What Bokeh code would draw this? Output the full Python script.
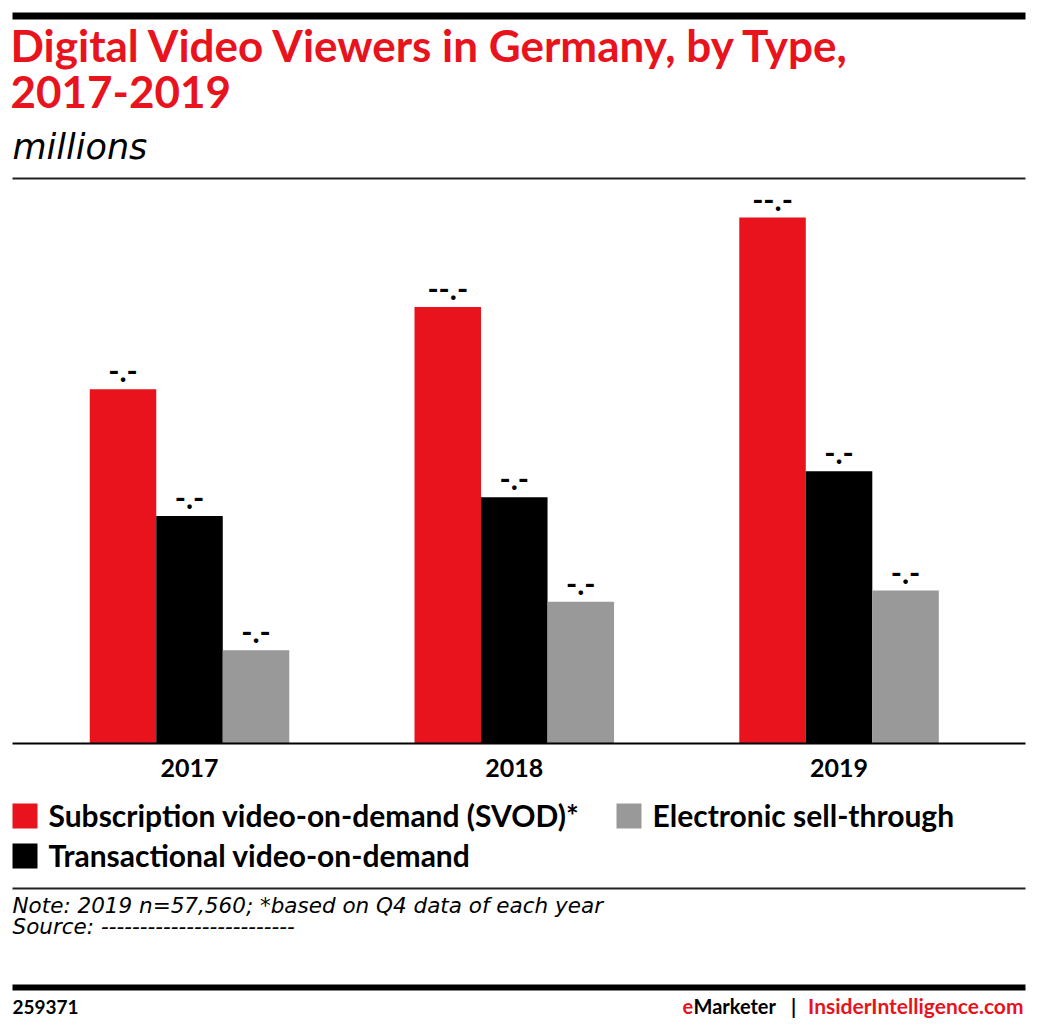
from bokeh.plotting import figure
from bokeh.models import ColumnDataSource, Range1d, Label, BoxAnnotation
from bokeh.transform import dodge
from bokeh.core.properties import value
from bokeh.embed import file_html
from bokeh.resources import INLINE

# ---- data (millions; values masked in the source) ----
years = ["2017", "2018", "2019"]
svod = [9.5, 11.7, 14.1]
tvod = [6.1, 6.6, 7.3]
est = [2.5, 3.8, 4.1]
svod_labels = ["-.-", "--.-", "--.-"]
tvod_labels = ["-.-", "-.-", "-.-"]
est_labels = ["-.-", "-.-", "-.-"]
series_names = ["Subscription video-on-demand (SVOD)*",
                "Transactional video-on-demand",
                "Electronic sell-through"]

title_lines = ["Digital Video Viewers in Germany, by Type,", "2017-2019"]
subtitle = "millions"
note_lines = ["Note: 2019 n=57,560; *based on Q4 data of each year",
              "Source: -------------------------"]
chart_id = "259371"

RED = "#E8131D"
BLACK = "#000000"
GRAY = "#999999"
colors = [RED, BLACK, GRAY]
BOLD_FONT = "Lato"
ITALIC_FONT = "DejaVu Sans"

W, H = 1036, 1030
p = figure(width=W, height=H, output_backend="svg", toolbar_location=None,
           x_range=Range1d(-0.582, 2.608), y_range=Range1d(-7.694, 19.92),
           x_axis_location=None, y_axis_location=None, min_border=0)
p.min_border_left = 0
p.min_border_right = 0
p.min_border_top = 0
p.min_border_bottom = 0
p.outline_line_color = None
p.xgrid.grid_line_color = None
p.ygrid.grid_line_color = None
p.background_fill_color = "white"
p.border_fill_color = "white"

src = ColumnDataSource(dict(x=list(range(len(years))), year=years, zero=[0] * len(years),
                            svod=svod, tvod=tvod, est=est,
                            svod_lab=svod_labels, tvod_lab=tvod_labels, est_lab=est_labels))
BW = 0.2048
specs = [("svod", -BW, colors[0], "svod_lab"),
         ("tvod", 0.0, colors[1], "tvod_lab"),
         ("est", BW, colors[2], "est_lab")]
for col, off, color, lab in specs:
    p.vbar(x=dodge("x", off, range=p.x_range), top=col, bottom=0, width=BW,
           source=src, fill_color=color, line_color=None)
    p.text(x=dodge("x", off, range=p.x_range), y=col, text=lab, source=src,
           text_align="center", text_baseline="alphabetic", y_offset=-18,
           text_font=value(BOLD_FONT), text_font_style="bold",
           text_font_size="30px", text_color=BLACK)

# category (x axis) labels
p.text(x="x", y="zero", text="year", source=src, text_align="center",
       text_baseline="alphabetic", y_offset=24, text_font=value(BOLD_FONT),
       text_font_style="bold", text_font_size="25px", text_color=BLACK)


def box(left, right, top, bottom, color):
    # page pixel coordinates -> frame screen coords (frame == canvas, y from bottom)
    p.add_layout(BoxAnnotation(left=left, right=right, top=H - top, bottom=H - bottom,
                               left_units="screen", right_units="screen",
                               top_units="screen", bottom_units="screen",
                               fill_color=color, fill_alpha=1.0, line_alpha=0,
                               level="overlay"))


def label(text, x, baseline, size, style="normal", color=BLACK, font=BOLD_FONT,
          align="left", shift=0.42):
    y = H - (baseline - shift * size)
    p.add_layout(Label(x=x, y=y, x_units="screen", y_units="screen", text=text,
                       text_font=font, text_font_size=f"{size}px", text_font_style=style,
                       text_color=color, text_align=align, text_baseline="alphabetic"))


# rules
box(12, 1025, 12, 19, BLACK)        # top bar
box(12, 1025, 177, 179, "#222222")  # under subtitle
box(12, 1025, 742, 744, BLACK)      # baseline axis line
box(12, 1025, 887, 889, "#222222")  # above notes
box(12, 1025, 984, 990, BLACK)      # footer bar

# header
label(title_lines[0], 10, 63, 44, "bold", RED)
label(title_lines[1], 10, 110, 44, "bold", RED)
label(subtitle, 12, 160, 35, "italic", BLACK, ITALIC_FONT, shift=0.40)

# legend
legend_pos = [(12, 803), (12, 843), (616, 803)]
for name, c, (lx, ly) in zip(series_names, colors, legend_pos):
    box(lx, lx + 25, ly, ly + 25, c)
    label(name, lx + 36, ly + 24, 30, "bold", BLACK)

# notes / footer
label(note_lines[0], 12, 914, 21.5, "italic", BLACK, ITALIC_FONT, shift=0.40)
label(note_lines[1], 12, 935, 21.5, "italic", BLACK, ITALIC_FONT, shift=0.40)
label(chart_id, 12, 1014, 19, "bold", BLACK)
label("e", 682, 1014, 20, "bold", RED)
label("Marketer", 693, 1014, 20, "bold", BLACK)
label("|", 793, 1014, 20, "bold", BLACK, align="center")
label("InsiderIntelligence.com", 1023, 1014, 21, "bold", RED, align="right")

open("out.html", "w").write(file_html(p, INLINE))
